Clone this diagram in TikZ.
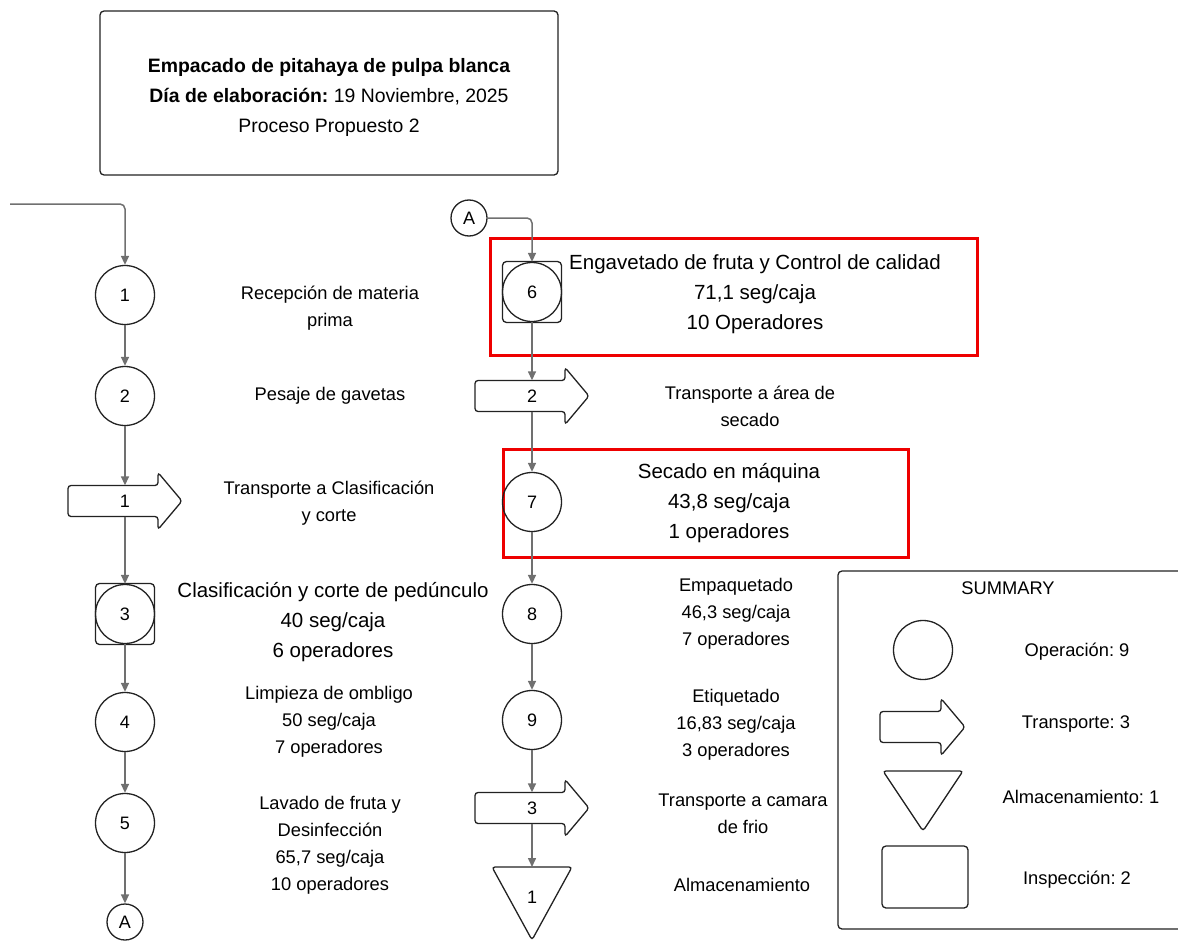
\documentclass[tikz,border=0pt]{standalone}
\usepackage{fontspec}
\setmainfont{Liberation Sans}
\usetikzlibrary{arrows.meta}
\frenchspacing
\definecolor{conn}{HTML}{707070}
\definecolor{ln}{HTML}{222222}
\definecolor{redb}{HTML}{EE0000}
\tikzset{
 shp/.style={draw=ln, line width=1.3pt},
 op/.style={shp, circle, minimum size=59pt, inner sep=0pt, font=\fontsize{18}{20}\selectfont},
 insq/.style={shp, rectangle, rounded corners=4pt, minimum width=59pt, minimum height=61pt, inner sep=0pt},
 conline/.style={draw=conn, line width=1.5pt, -{Triangle[length=9pt,width=8pt]}},
 lbl/.style={align=center, font=\fontsize{18.3}{27}\selectfont},
 lblbig/.style={align=center, font=\fontsize{20.5}{30}\selectfont},
 ttl/.style={align=center, font=\fontsize{19.4}{30}\selectfont},
 redbox/.style={draw=redb, line width=3pt, inner sep=0pt},
 conA/.style={shp, circle, minimum size=36pt, inner sep=0pt, font=\fontsize{18}{20}\selectfont},
 boxed/.style={shp, rounded corners=4pt, inner sep=0pt},
}
\newcommand\transp[5]{%
 \begin{scope}[shift={(#2,#3)}]
 \draw[shp, rounded corners=3pt] (-#4,-15.5) -- (#4-24,-15.5) -- (#4-24,-28.5) -- (#4,0) -- (#4-24,28.5) -- (#4-24,15.5) -- (-#4,15.5) -- cycle;
 \node[minimum width=2*#4, minimum height=31, inner sep=0pt, font=\fontsize{18}{20}\selectfont] (#1) at (0,0) {#5};
 \end{scope}}
\begin{document}
\begin{tikzpicture}[x=1pt,y=-1pt]
\useasboundingbox (0,0) rectangle (1178,942);
% title
\node[boxed, minimum width=458, minimum height=164] (title) at (329,93) {};
\node[ttl] (titletext) at (329,97) {\textbf{Empacado de pitahaya de pulpa blanca}\\\textbf{Día de elaboración:} 19 Noviembre, 2025\\Proceso Propuesto 2};
% red boxes
\node[redbox, minimum width=487, minimum height=117] (rb1) at (733.5,296.5) {};
\node[redbox, minimum width=405, minimum height=108] (rb2) at (705.5,503) {};
% left column
\coordinate (start) at (10,204);
\node[op] (c1) at (125,295) {1};
\node[op] (c2) at (125,396) {2};
\transp{t1}{125}{501}{57}{1}
\node[insq] (sq3) at (125,614) {};
\node[op] (c3) at (125,614) {3};
\node[op] (c4) at (125,722) {4};
\node[op] (c5) at (125,823) {5};
\node[conA] (a1) at (125,922) {A};
% right column
\node[conA] (a2) at (469,218) {A};
\node[insq] (sq6) at (532,292) {};
\node[op] (c6) at (532,292) {6};
\transp{t2}{532}{396}{57}{2}
\node[op] (c7) at (532,502) {7};
\node[op] (c8) at (532,614) {8};
\node[op] (c9) at (532,720) {9};
\transp{t3}{532}{808}{57}{3}
\draw[shp, rounded corners=3pt] (492,867) -- (572,867) -- (532,940) -- cycle;
\node[anchor=north, minimum width=10, minimum height=60, inner sep=0pt, font=\fontsize{18}{20}\selectfont] (s1) at (532,867) {1};
% connectors
\draw[conline, rounded corners=5pt] (start) -| (c1);
\draw[conline] (c1) -- (c2);
\draw[conline] (c2) -- (t1);
\draw[conline] (t1.south -| c3) -- (c3);
\draw[conline] (c3) -- (c4);
\draw[conline] (c4) -- (c5);
\draw[conline] (c5) -- (a1);
\draw[conline, rounded corners=5pt] (a2) -| (c6);
\draw[conline] (c6) -- (c6 |- t2.north);
\draw[conline] (t2.south -| c7) -- (c7);
\draw[conline] (c7) -- (c8);
\draw[conline] (c8) -- (c9);
\draw[conline] (c9) -- (c9 |- t3.north);
\draw[conline] (t3.south -| s1) -- (s1);
% left labels
\node[lbl] (l1) at (330,308) {Recepción de materia\\prima};
\node[lbl] (l2) at (330,396) {Pesaje de gavetas};
\node[lbl] (l3) at (329,503) {Transporte a Clasificación\\y corte};
\node[lblbig] (l4) at (333,622) {Clasificación y corte de pedúnculo\\40 seg/caja\\6 operadores};
\node[lbl] (l5) at (329,722) {Limpieza de ombligo\\50 seg/caja\\7 operadores};
\node[lbl] (l6) at (330,845.5) {Lavado de fruta y\\Desinfección\\65,7 seg/caja\\10 operadores};
% right labels
\node[lblbig] (r1) at (755,294) {Engavetado de fruta y Control de calidad\\71,1 seg/caja\\10 Operadores};
\node[lbl] (r2) at (750,406) {Transporte a área de\\secado};
\node[lblbig] (r3) at (729,503) {Secado en máquina\\43,8 seg/caja\\1 operadores};
\node[lbl] (r4) at (736,613.5) {Empaquetado\\46,3 seg/caja\\7 operadores};
\node[lbl] (r5) at (736,724.5) {Etiquetado\\16,83 seg/caja\\3 operadores};
\node[lbl] (r6) at (743,813.5) {Transporte a camara\\de frio};
\node[lbl] (r7) at (742,885) {Almacenamiento};
% summary
\draw[shp, rounded corners=4pt] (838,571) rectangle (1190,929);
\node[lbl] (sumt) at (1008,588) {SUMMARY};
\node[op] (so) at (923,650) {};
\node[lbl] (sot) at (1077,652) {Operación: 9};
\transp{st}{922.5}{727}{42.5}{}
\node[lbl] (stt) at (1076,724) {Transporte: 3};
\draw[shp, rounded corners=3pt] (883,771) -- (963,771) -- (923,831) -- cycle;
\node[lbl] (sat) at (1081,797) {Almacenamiento: 1};
\node[boxed, minimum width=86, minimum height=62] (si) at (925,877) {};
\node[lbl] (sit) at (1077,880) {Inspección: 2};
\end{tikzpicture}
\end{document}
